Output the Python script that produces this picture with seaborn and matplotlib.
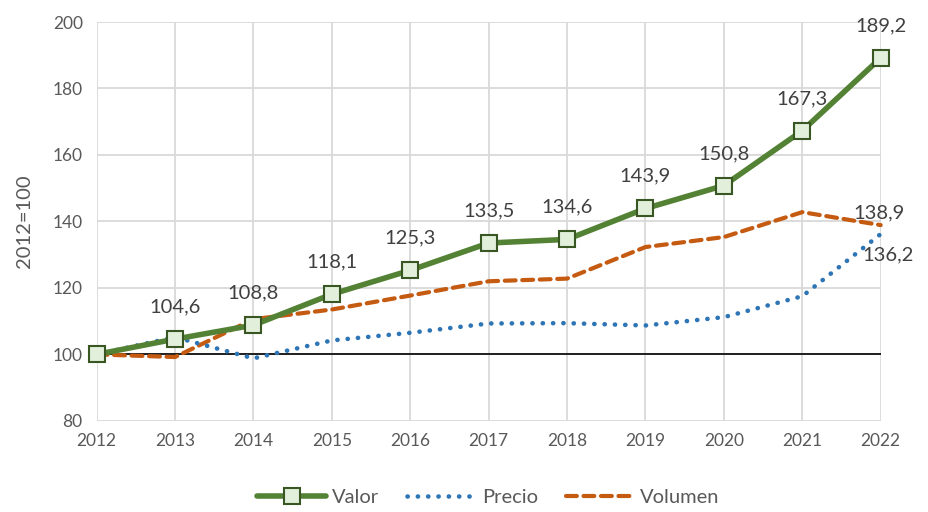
import matplotlib
matplotlib.use("Agg")
import matplotlib.pyplot as plt
import seaborn as sns
import pandas as pd

# data
years = [2012, 2013, 2014, 2015, 2016, 2017, 2018, 2019, 2020, 2021, 2022]
valor = [100, 104.6, 108.8, 118.1, 125.3, 133.5, 134.6, 143.9, 150.8, 167.3, 189.2]
precio = [100, 105.2, 98.8, 104.2, 106.5, 109.3, 109.4, 108.7, 111.2, 117.5, 136.2]
volumen = [100, 99.2, 110.6, 113.5, 117.7, 122.0, 122.8, 132.3, 135.3, 142.8, 138.9]

sns.set_style("white")
plt.rcParams['font.family'] = ['Lato', 'DejaVu Sans']

df = pd.DataFrame({"year": years, "Valor": valor, "Precio": precio, "Volumen": volumen})

fig, ax = plt.subplots(figsize=(9.29, 5.12), dpi=100)
fig.subplots_adjust(left=0.104, right=0.948, top=0.957, bottom=0.178)

ax.axhline(100, color='black', lw=1.2, zorder=2)

sns.lineplot(data=df, x="year", y="Valor", ax=ax, color='#548235', lw=4,
             marker='s', markersize=11, markerfacecolor='#e2efda',
             markeredgecolor='#385723', markeredgewidth=1.5, label='Valor',
             zorder=5, clip_on=False)
sns.lineplot(data=df, x="year", y="Precio", ax=ax, color='#2e75b6', lw=3.3,
             linestyle=(0, (0.05, 2.2)), dash_capstyle='round', label='Precio',
             zorder=4, clip_on=False)
sns.lineplot(data=df, x="year", y="Volumen", ax=ax, color='#c55a11', lw=3,
             linestyle=(0, (2.6, 1.6)), dash_capstyle='round', label='Volumen',
             zorder=3, clip_on=False)

# data labels
lab_kw = dict(textcoords='offset points', fontsize=14.5, color='#404040')
for yr, v in zip(years[1:], valor[1:]):
    ax.annotate(f"{v:.1f}".replace('.', ','), (yr, v), xytext=(0, 17),
                ha='center', va='bottom', **lab_kw)
ax.annotate(f"{volumen[-1]:.1f}".replace('.', ','), (years[-1], volumen[-1]),
            xytext=(-20, 3), ha='left', va='bottom', **lab_kw)
ax.annotate(f"{precio[-1]:.1f}".replace('.', ','), (years[-1], precio[-1]),
            xytext=(-13, -9), ha='left', va='top', **lab_kw)

ax.set_xlim(2012, 2022)
ax.set_ylim(80, 200)
ax.set_xticks(years)
ax.set_yticks(range(80, 201, 20))
ax.grid(True, color='#d9d9d9', lw=1.3)
for s in ax.spines.values():
    s.set_visible(False)
ax.tick_params(axis='both', labelsize=12.5, colors='#595959', length=0)
ax.tick_params(axis='y', pad=10)
ax.tick_params(axis='x', pad=9)
ax.set_xlabel("")
ax.set_ylabel("2012=100", fontsize=14.5, color='#595959', labelpad=14)

leg = ax.legend(loc='upper center', bbox_to_anchor=(0.5, -0.125), ncol=3,
                frameon=False, fontsize=14.5, handlelength=3.4, columnspacing=1.4,
                handletextpad=0.3)
for t in leg.get_texts():
    t.set_color('#595959')

fig.savefig("out.png", dpi=100)
